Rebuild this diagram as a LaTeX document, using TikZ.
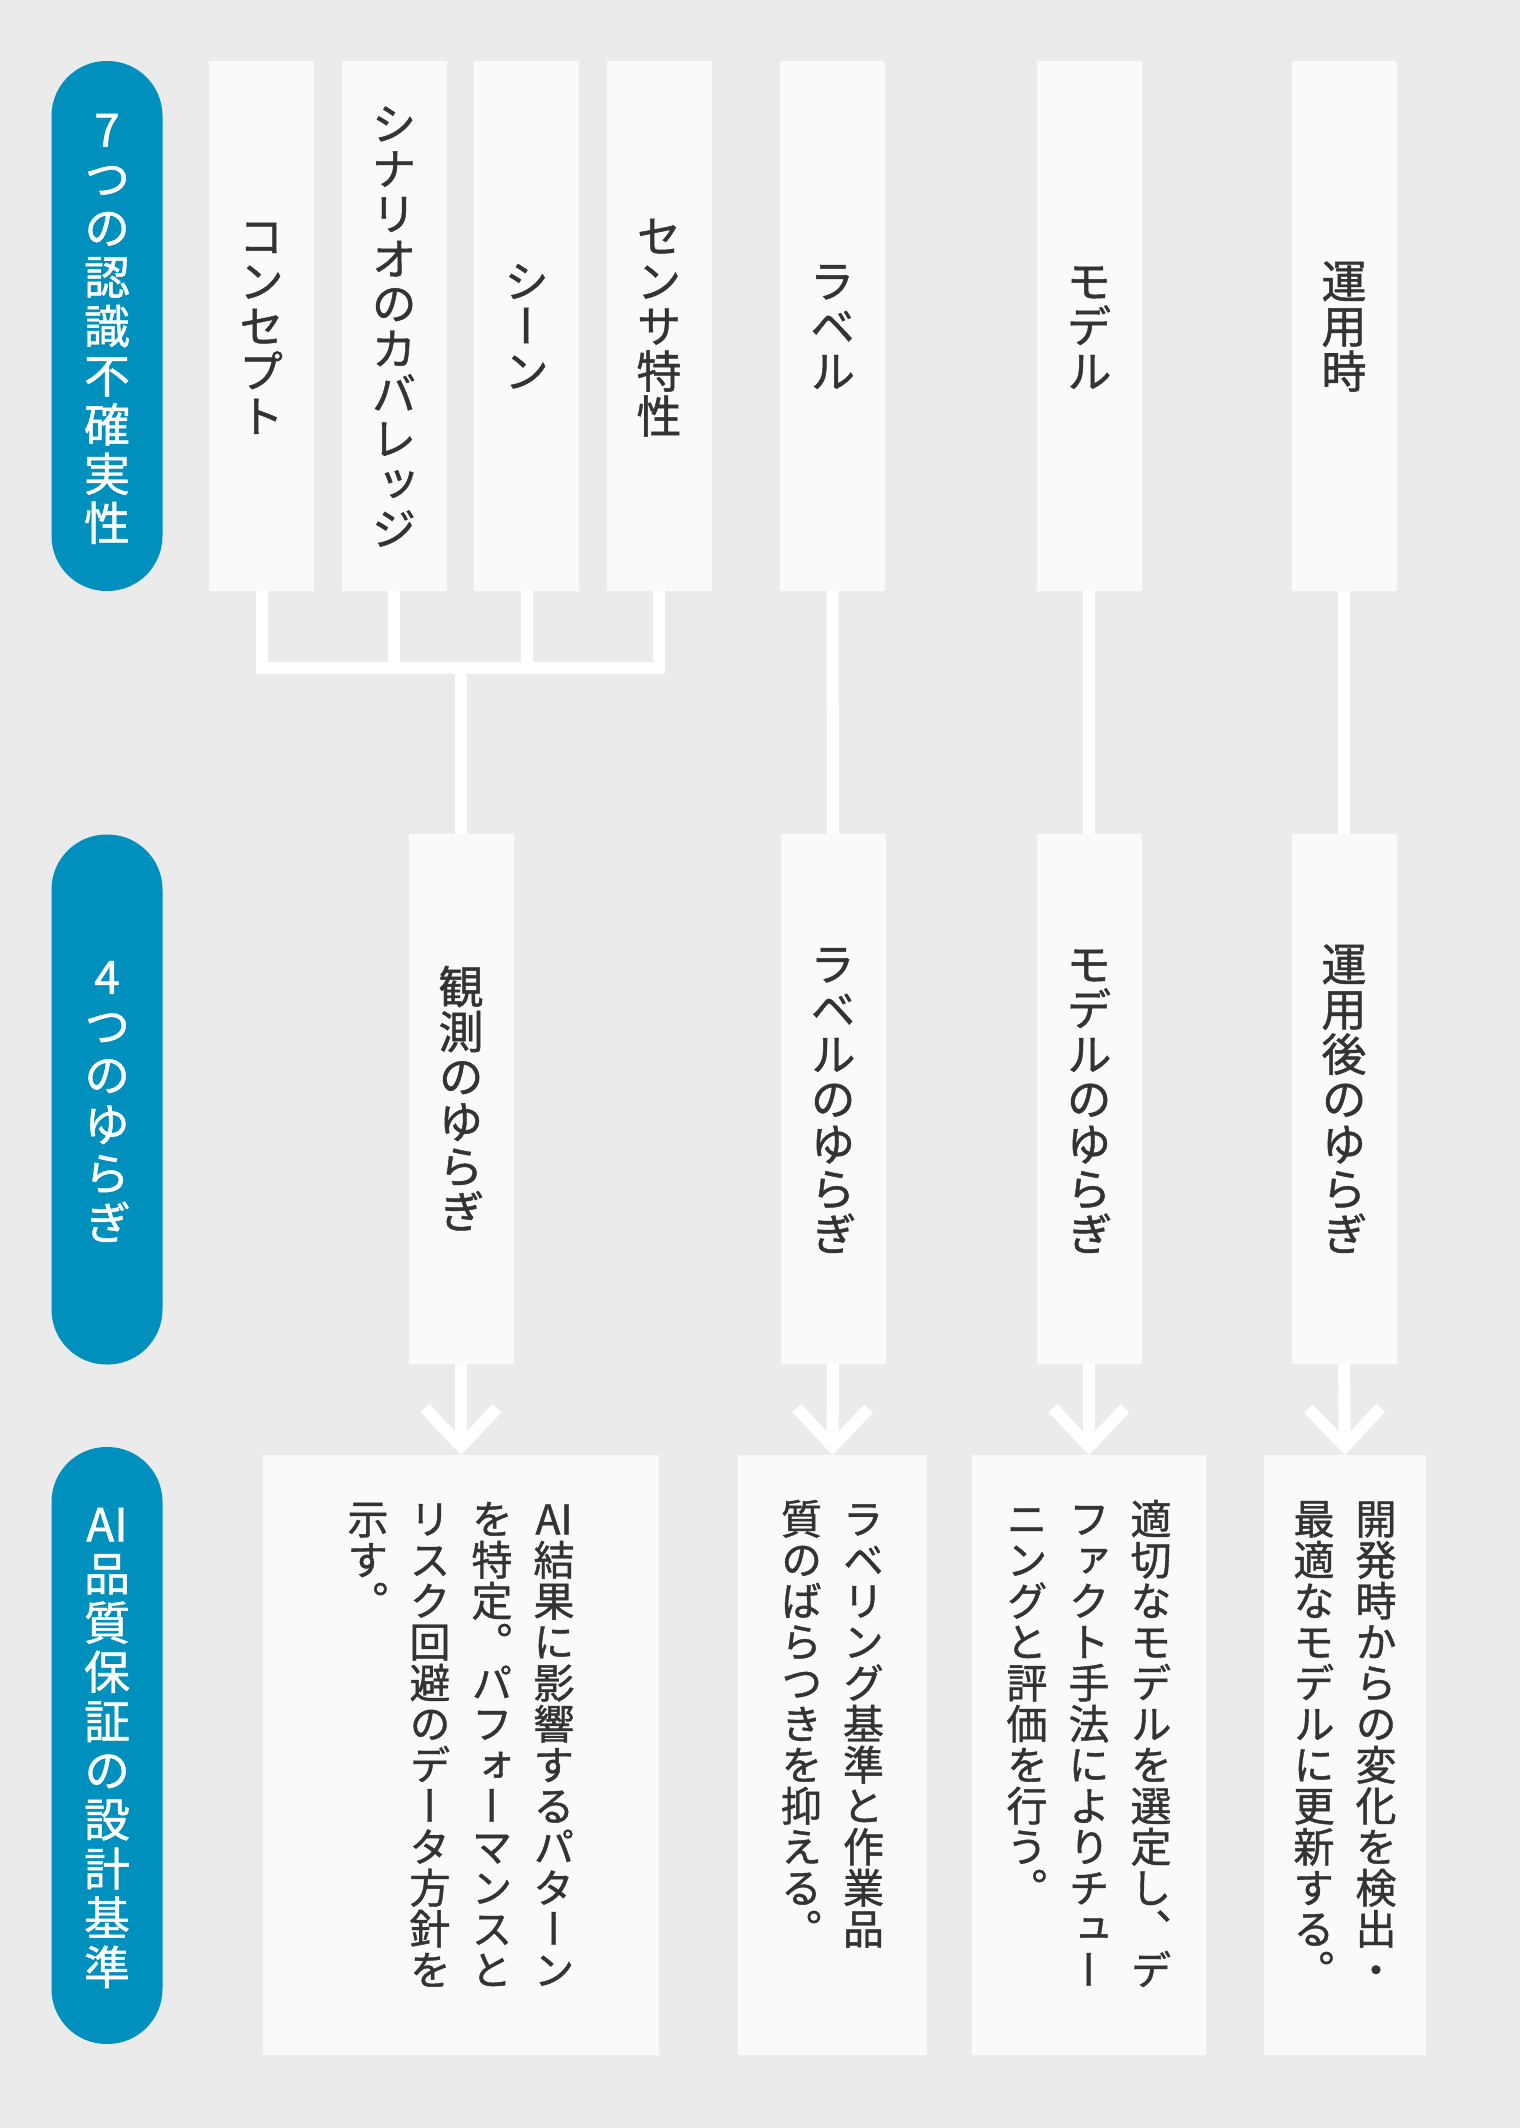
\documentclass[tikz,border=0pt]{standalone}
\usepackage{fontspec}
\newfontfamily\jp[RawFeature=+vert,FakeBold=1]{Noto Sans CJK JP}
\usetikzlibrary{arrows.meta}
\definecolor{bggray}{HTML}{EBEBEB}
\definecolor{boxwhite}{HTML}{FAFAFA}
\definecolor{pillblue}{HTML}{0090BD}
\definecolor{inkgray}{HTML}{333333}
%% vertical text: one character per em cell, top to bottom
\def\tateend{\tateend}
\newcommand\tate[2][1]{\vtop{\baselineskip=#1em\lineskiplimit=-\maxdimen
    \expandafter\tatego#2\tateend}}
\def\tatego#1{\ifx\tateend#1\else
    \hbox to 1em{\vrule height .88em depth .12em width 0pt\hss#1\hss}%
    \expandafter\tatego\fi}
\begin{document}
\begin{tikzpicture}[x=1pt,y=-1pt,
    pill/.style={fill=pillblue,text=white,rounded corners=55pt,minimum width=111,inner sep=0,
        font=\jp\fontsize{46}{46}\selectfont},
    box/.style={fill=boxwhite,text=inkgray,minimum width=105,minimum height=530,inner sep=0,
        font=\jp\fontsize{45}{45}\selectfont},
    note/.style={fill=boxwhite,minimum height=600,anchor=north},
    notetext/.style={text=inkgray,inner sep=0,anchor=north,yshift=-43pt,
        font=\jp\fontsize{41}{41}\selectfont},
    link/.style={white,line width=12},
    arr/.style={link,-{Straight Barb[length=38pt,width=72pt]}}]
    \fill[bggray] (0,0) rectangle (1520,2128);
    %% row headings
    \node[pill,minimum height=530] (h-seven) at (107,326) {\tate[1.07]{7つの認識不確実性}};
    \node[pill,minimum height=530] (h-four) at (107,1099.5) {\tate[1.07]{4つのゆらぎ}};
    \node[pill,minimum height=597] (h-ai) at (107,1745.5) {\tate[1.07]{{AI}品質保証の設計基準}};
    %% seven uncertainties
    \foreach \x/\n/\lbl in {261.5/concept/コンセプト,394/scenario/シナリオのカバレッジ,
        526.5/scene/シーン,659/sensor/センサ特性,832.5/label/ラベル,1089/model/モデル,1344/ops/運用時}
        \node[box] (t-\n) at (\x,326) {\tate{\lbl}};
    %% four fluctuations
    \foreach \x/\n/\lbl in {461/obs/観測のゆらぎ,833/label/ラベルのゆらぎ,
        1089/model/モデルのゆらぎ,1344/ops/運用後のゆらぎ}
        \node[box] (m-\n) at (\x,1099) {\tate{\lbl}};
    %% design criteria
    \node[note,minimum width=396] (b-obs) at (461,1455) {};
    \node[notetext] (n-obs) at (b-obs.north) {\tate{示す。}\hskip21pt\tate{リスク回避のデータ方針を}%
        \hskip21pt\tate{を特定。パフォーマンスと}\hskip21pt\tate{{AI}結果に影響するパターン}};
    \node[note,minimum width=189] (b-label) at (832.5,1455) {};
    \node[notetext] (n-label) at (b-label.north) {\tate{質のばらつきを抑える。}\hskip21pt\tate{ラベリング基準と作業品}};
    \node[note,minimum width=234] (b-model) at (1089,1455) {};
    \node[notetext] (n-model) at (b-model.north) {\tate{ニングと評価を行う。}\hskip21pt\tate{ファクト手法によりチュー}%
        \hskip21pt\tate{適切なモデルを選定し、デ}};
    \node[note,minimum width=162] (b-ops) at (1345,1455) {};
    \node[notetext] (n-ops) at (b-ops.north) {\tate{最適なモデルに更新する。}\hskip21pt\tate{開発時からの変化を検出・}};
    %% links
    \coordinate (bar) at (0,667.5);
    \foreach \n in {concept,scenario,scene,sensor}
        \draw[link] (t-\n.south) -- (t-\n.south |- bar);
    \draw[link,line cap=rect] (t-concept.south |- bar) -- (t-sensor.south |- bar);
    \draw[link] (m-obs.north |- bar) -- (m-obs.north);
    \foreach \n in {label,model,ops}
        \draw[link] (t-\n.south) -- (m-\n.north);
    \foreach \n in {obs,label,model,ops}
        \draw[arr] (m-\n.south) -- (b-\n.north);
\end{tikzpicture}
\end{document}
